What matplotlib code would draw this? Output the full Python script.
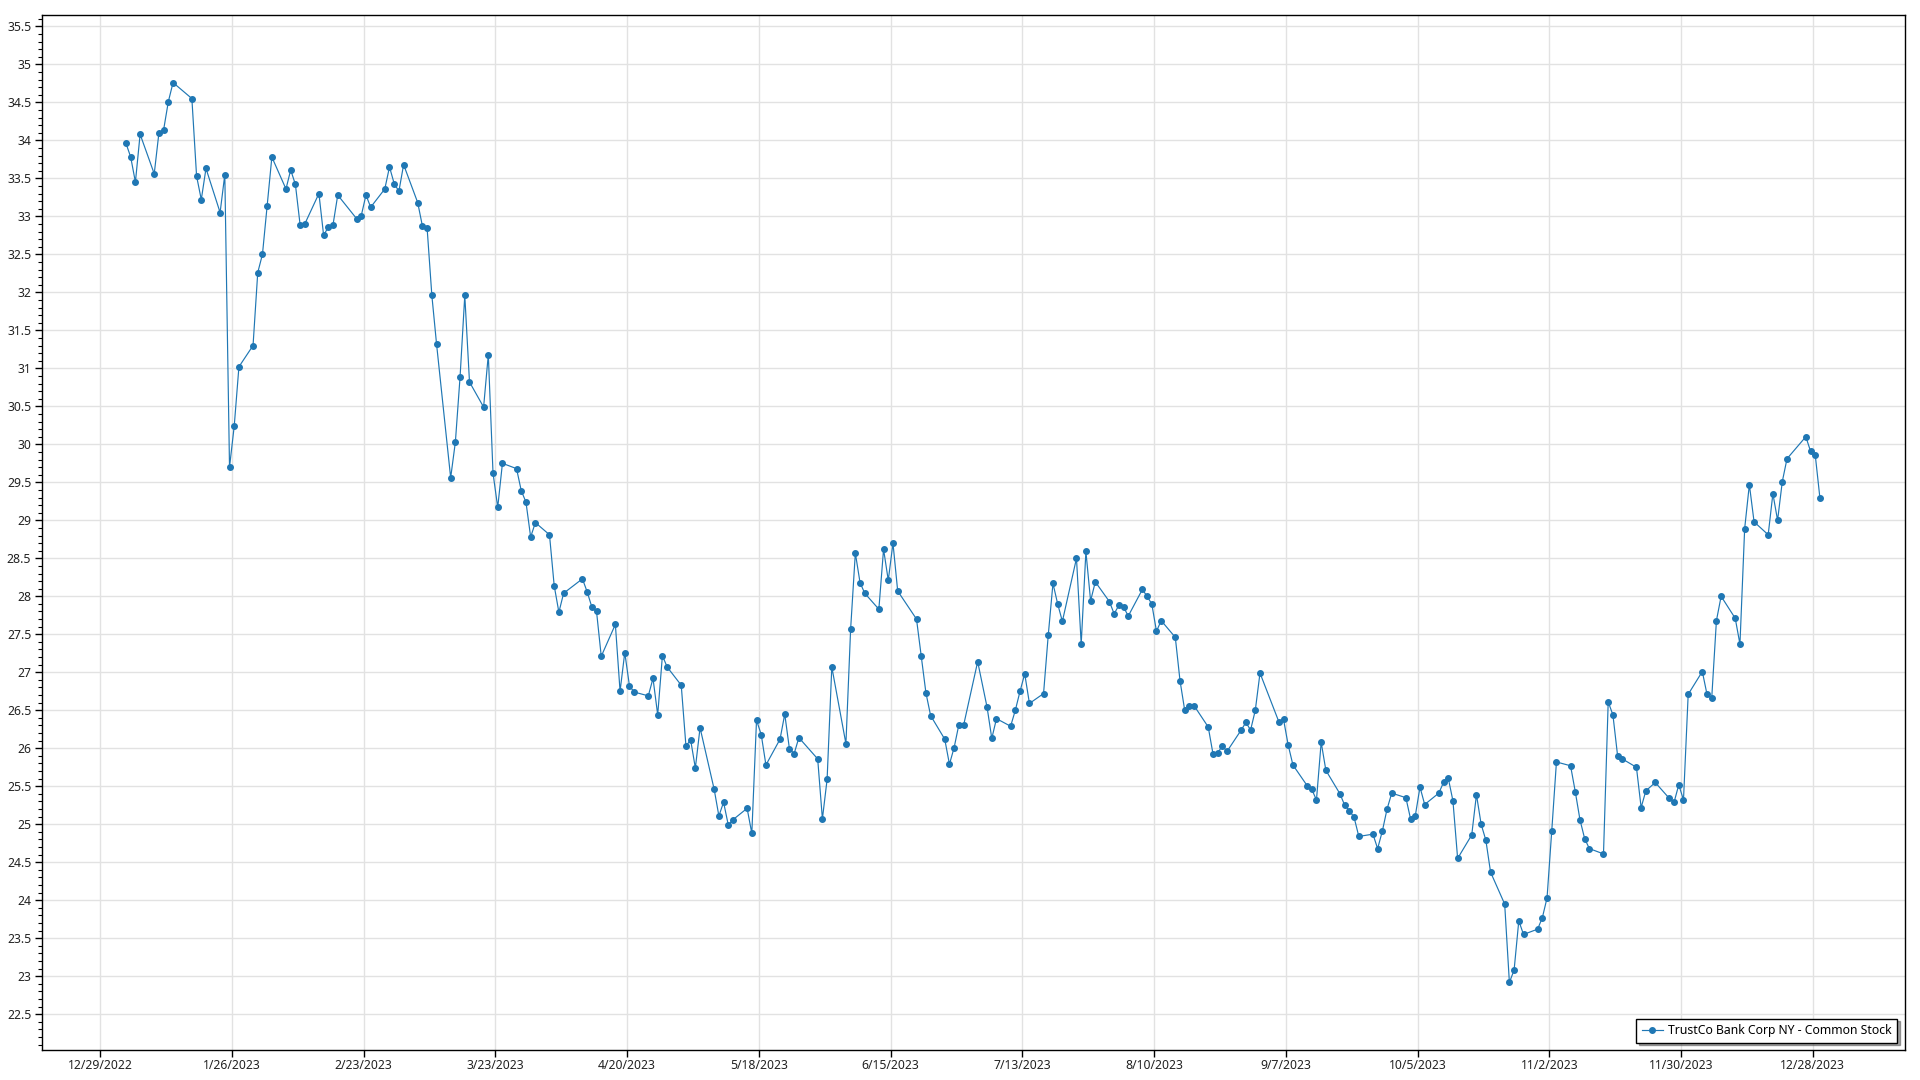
# TrustCo Bank Corp NY - daily close 2023
import pandas as pd
import matplotlib.pyplot as plt
import matplotlib.dates as mdates
from matplotlib.ticker import MultipleLocator, FuncFormatter

plt.rcParams["font.family"] = ["Noto Sans", "DejaVu Sans"]

# NYSE holidays in 2023 (trading days are the business days minus these)
holidays = ["2023-01-02", "2023-01-16", "2023-02-20", "2023-04-07", "2023-05-29",
            "2023-06-19", "2023-07-04", "2023-09-04", "2023-11-23", "2023-12-25"]

# closing prices, one list per month
jan = [33.96, 33.78, 33.45, 34.08, 33.56, 34.10, 34.14, 34.51, 34.76, 34.55,
       33.53, 33.22, 33.63, 33.05, 33.55, 29.70, 30.24, 31.02, 31.30, 32.26]
feb = [32.50, 33.14, 33.78, 33.36, 33.61, 33.42, 32.89, 32.90, 33.30, 32.75,
       32.86, 32.89, 33.28, 32.97, 33.01, 33.28, 33.12, 33.36, 33.65]
mar = [33.43, 33.33, 33.68, 33.18, 32.87, 32.84, 31.96, 31.32, 29.56, 30.03,
       30.89, 31.96, 30.82, 30.49, 31.18, 29.62, 29.17, 29.75, 29.68, 29.39,
       29.24, 28.78, 28.97]
apr = [28.81, 28.14, 27.79, 28.04, 28.23, 28.06, 27.86, 27.80, 27.21, 27.63,
       26.75, 27.26, 26.82, 26.74, 26.69, 26.92, 26.44, 27.22, 27.07]
may = [26.83, 26.03, 26.11, 25.74, 26.27, 25.46, 25.11, 25.29, 24.99, 25.06,
       25.21, 24.88, 26.37, 26.18, 25.78, 26.12, 26.45, 25.99, 25.93, 26.14,
       25.86, 25.07]
jun = [25.59, 27.07, 26.06, 27.57, 28.57, 28.18, 28.04, 27.83, 28.62, 28.21,
       28.70, 28.07, 27.70, 27.21, 26.73, 26.43, 26.12, 25.79, 26.01, 26.31, 26.30]
jul = [27.14, 26.54, 26.13, 26.39, 26.29, 26.50, 26.75, 26.98, 26.59, 26.72,
       27.49, 28.17, 27.90, 27.67, 28.50, 27.37, 28.59, 27.94, 28.19, 27.93]
aug = [27.77, 27.88, 27.86, 27.74, 28.09, 28.00, 27.90, 27.54, 27.68, 27.46,
       26.89, 26.50, 26.55, 26.56, 26.28, 25.93, 25.94, 26.03, 25.96, 26.24,
       26.34, 26.24, 26.50]
sep = [26.99, 26.35, 26.38, 26.04, 25.78, 25.51, 25.46, 25.32, 26.08, 25.71,
       25.40, 25.25, 25.18, 25.09, 24.84, 24.87, 24.68, 24.91, 25.20, 25.41]
oct_ = [25.35, 25.07, 25.11, 25.49, 25.26, 25.41, 25.55, 25.61, 25.31, 24.55,
        24.86, 25.39, 25.00, 24.79, 24.37, 23.95, 22.92, 23.08, 23.73, 23.55,
        23.62, 23.77]
nov = [24.03, 24.91, 25.82, 25.77, 25.43, 25.06, 24.81, 24.68, 24.61, 26.61,
       26.44, 25.90, 25.86, 25.75, 25.22, 25.44, 25.55, 25.34, 25.29, 25.52, 25.32]
dec = [26.71, 27.01, 26.71, 26.66, 27.68, 28.00, 27.71, 27.37, 28.89, 29.47,
       28.98, 28.81, 29.35, 29.00, 29.51, 29.81, 30.10, 29.91, 29.86, 29.29]

prices = jan + feb + mar + apr + may + jun + jul + aug + sep + oct_ + nov + dec
# points sit half a day after the date ticks in the original
dates = pd.bdate_range("2023-01-03", "2023-12-29", freq="C", holidays=holidays) + pd.Timedelta(hours=12)
series_name = "TrustCo Bank Corp NY - Common Stock"

x_ticks = pd.date_range("2022-12-29", periods=14, freq="28D")

fig = plt.figure(figsize=(19.2, 10.8), dpi=100)
ax = fig.add_axes([0.022, 0.0278, 0.970, 0.958])

ax.plot(dates, prices, color="#1f77b4", lw=0.85, marker="o", ms=4,
        label=series_name)

ax.set_xlim(x_ticks[0] - pd.Timedelta(days=12.3), x_ticks[-1] + pd.Timedelta(days=19.5))
ax.set_ylim(22.03, 35.645)

ax.set_xticks(x_ticks)
ax.xaxis.set_major_formatter(FuncFormatter(
    lambda v, pos: (lambda d: f"{d.month}/{d.day}/{d.year}")(mdates.num2date(v))))
ax.yaxis.set_major_locator(MultipleLocator(0.5))
ax.yaxis.set_minor_locator(MultipleLocator(0.1))
ax.yaxis.set_major_formatter(FuncFormatter(lambda v, pos: f"{v:g}"))

ax.grid(True, which="major", color="#e2e2e2", lw=1)
ax.set_axisbelow(True)
ax.tick_params(axis="both", which="major", length=5, width=1, labelsize=8.8,
               labelcolor="#222222")
ax.tick_params(axis="x", which="major", pad=1.5)
ax.tick_params(axis="y", which="major", pad=3)
ax.tick_params(axis="y", which="minor", length=3, width=0.8)
for s in ax.spines.values():
    s.set_color("black")
    s.set_linewidth(1)

leg = ax.legend(loc="lower right", fontsize=8.8, frameon=True, fancybox=False,
                shadow=True, borderpad=0.45, handlelength=1.7, handletextpad=0.45,
                borderaxespad=0.6)
leg.get_frame().set_edgecolor("black")
leg.get_frame().set_linewidth(1)

fig.savefig("out.png", dpi=100)
